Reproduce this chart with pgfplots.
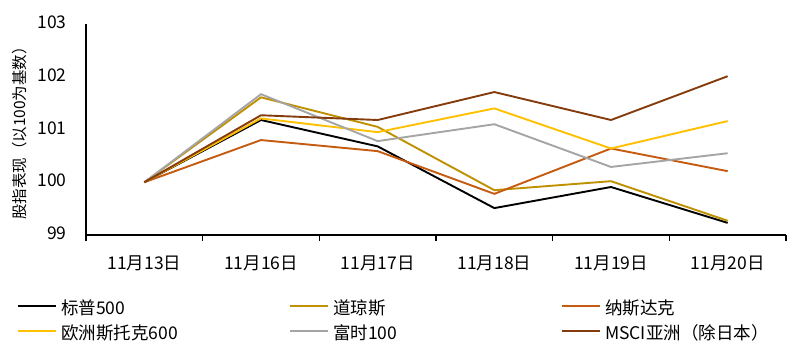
\documentclass[border=0pt]{standalone}
\usepackage{fontspec}
\setmainfont{Noto Sans CJK SC}
\newfontfamily\ylabfont{Noto Sans CJK SC}
\usepackage{pgfplots}
\pgfplotsset{compat=1.18}
\definecolor{cSP}{HTML}{000000}
\definecolor{cDow}{HTML}{BF9000}
\definecolor{cNas}{HTML}{C55A11}
\definecolor{cStx}{HTML}{FFC000}
\definecolor{cFts}{HTML}{A5A5A5}
\definecolor{cMsc}{HTML}{843C0C}
\begin{document}
\begin{tikzpicture}
\path[use as bounding box] (0,0) rectangle (801bp,355bp);
\begin{axis}[
  at={(86bp,120bp)}, anchor=south west,
  scale only axis, width=700bp, height=211bp,
  xmin=-0.5, xmax=5.5, ymin=99, ymax=103,
  axis x line*=bottom, axis y line*=left,
  axis line style={line width=1.4bp, -},
  xtick={0,...,5},
  xticklabels={11月13日,11月16日,11月17日,11月18日,11月19日,11月20日},
  minor xtick={-0.5,0.5,1.5,2.5,3.5,4.5,5.5},
  major tick length=0pt, minor tick length=6bp, tick align=outside,
  minor tick style={line width=1.4bp, black},
  ytick={99,100,101,102,103},
  /pgf/number format/assume math mode=true,
  ticklabel style={font=\fontsize{17.5bp}{20bp}\selectfont},
  xticklabel style={yshift=-17bp},
  yticklabel style={xshift=-16bp, yshift=1.5bp},
  ylabel={\ylabfont\fontsize{15.5bp}{18bp}\selectfont 股指表现（以100为基数）},
  every axis y label/.style={at={(axis description cs:-0.0943,0.5)}, rotate=90, anchor=center},
  legend columns=3,
  legend cell align=left,
  legend style={at={(axis description cs:-0.0986,-0.318)}, anchor=north west, draw=none, fill=none,
    inner sep=0pt, nodes={inner sep=0pt, anchor=west, text height=12bp, text depth=4bp, font=\fontsize{17.5bp}{20bp}\selectfont},
    /tikz/every odd column/.append style={column sep=4bp}, row sep=9bp},
  legend image code/.code={\draw[#1, line width=2bp] (0bp,4bp) -- (38bp,4bp);},
  every axis plot/.append style={line width=1.9bp, mark=none},
]
\addplot[cSP] coordinates {(0,100) (1,101.18) (2,100.68) (3,99.51) (4,99.91) (5,99.23)};
\addlegendentry{\makebox[228bp][l]{标普500}}
\addplot[cDow] coordinates {(0,100) (1,101.61) (2,101.05) (3,99.85) (4,100.02) (5,99.27)};
\addlegendentry{\makebox[228bp][l]{道琼斯}}
\addplot[cNas] coordinates {(0,100) (1,100.80) (2,100.59) (3,99.78) (4,100.64) (5,100.21)};
\addlegendentry{\makebox[190bp][l]{纳斯达克}}
\addplot[cStx] coordinates {(0,100) (1,101.21) (2,100.95) (3,101.40) (4,100.64) (5,101.16)};
\addlegendentry{\makebox[228bp][l]{欧洲斯托克600}}
\addplot[cFts] coordinates {(0,100) (1,101.67) (2,100.78) (3,101.10) (4,100.29) (5,100.55)};
\addlegendentry{\makebox[228bp][l]{富时100}}
\addplot[cMsc] coordinates {(0,100) (1,101.27) (2,101.18) (3,101.71) (4,101.18) (5,102.01)};
\addlegendentry{\makebox[190bp][l]{MSCI亚洲（除日本）}}
\end{axis}
\end{tikzpicture}
\end{document}
